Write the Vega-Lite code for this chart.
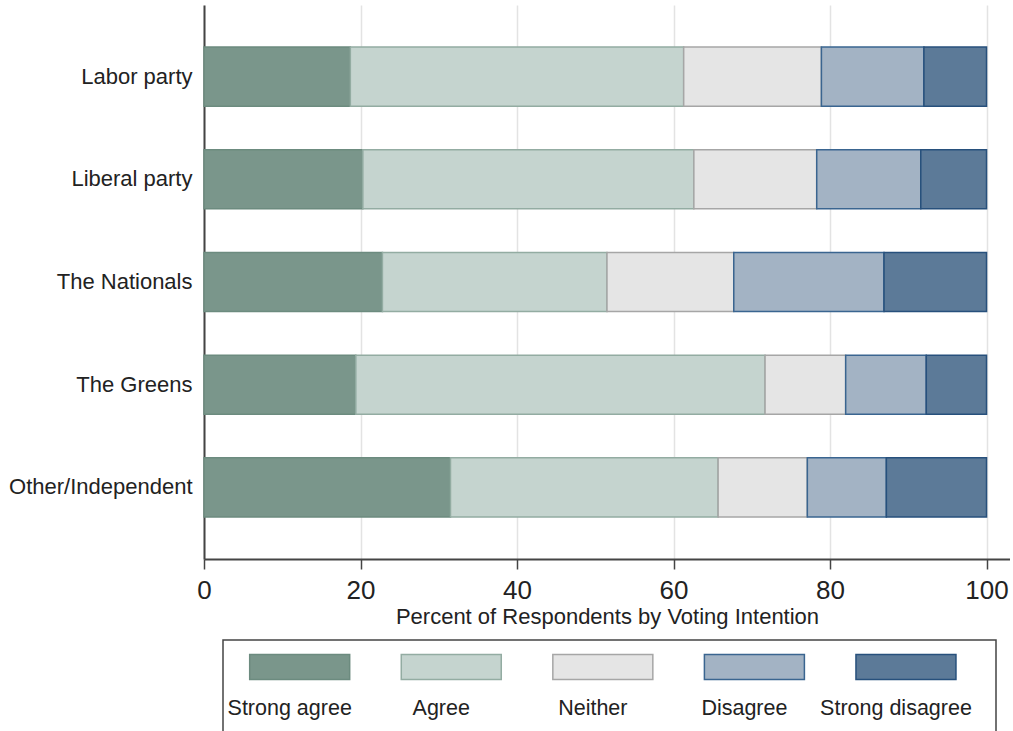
{
  "$schema": "https://vega.github.io/schema/vega-lite/v6.json",
  "padding": {"left": 5, "top": 5, "right": 0, "bottom": 0},
  "background": "white",
  "config": {"font": "Liberation Sans", "view": {"stroke": null}},
  "datasets": {
    "bars": [
      {"party": "Labor party", "response": "Strong agree", "rank": 1, "value": 18.7},
      {"party": "Labor party", "response": "Agree", "rank": 2, "value": 42.6},
      {"party": "Labor party", "response": "Neither", "rank": 3, "value": 17.6},
      {"party": "Labor party", "response": "Disagree", "rank": 4, "value": 13.1},
      {"party": "Labor party", "response": "Strong disagree", "rank": 5, "value": 8.0},
      {"party": "Liberal party", "response": "Strong agree", "rank": 1, "value": 20.3},
      {"party": "Liberal party", "response": "Agree", "rank": 2, "value": 42.3},
      {"party": "Liberal party", "response": "Neither", "rank": 3, "value": 15.7},
      {"party": "Liberal party", "response": "Disagree", "rank": 4, "value": 13.3},
      {"party": "Liberal party", "response": "Strong disagree", "rank": 5, "value": 8.4},
      {"party": "The Nationals", "response": "Strong agree", "rank": 1, "value": 22.8},
      {"party": "The Nationals", "response": "Agree", "rank": 2, "value": 28.7},
      {"party": "The Nationals", "response": "Neither", "rank": 3, "value": 16.2},
      {"party": "The Nationals", "response": "Disagree", "rank": 4, "value": 19.2},
      {"party": "The Nationals", "response": "Strong disagree", "rank": 5, "value": 13.1},
      {"party": "The Greens", "response": "Strong agree", "rank": 1, "value": 19.4},
      {"party": "The Greens", "response": "Agree", "rank": 2, "value": 52.3},
      {"party": "The Greens", "response": "Neither", "rank": 3, "value": 10.3},
      {"party": "The Greens", "response": "Disagree", "rank": 4, "value": 10.3},
      {"party": "The Greens", "response": "Strong disagree", "rank": 5, "value": 7.7},
      {"party": "Other/Independent", "response": "Strong agree", "rank": 1, "value": 31.5},
      {"party": "Other/Independent", "response": "Agree", "rank": 2, "value": 34.2},
      {"party": "Other/Independent", "response": "Neither", "rank": 3, "value": 11.4},
      {"party": "Other/Independent", "response": "Disagree", "rank": 4, "value": 10.1},
      {"party": "Other/Independent", "response": "Strong disagree", "rank": 5, "value": 12.8}
    ],
    "keys": [
      {"response": "Strong agree"},
      {"response": "Agree"},
      {"response": "Neither"},
      {"response": "Disagree"},
      {"response": "Strong disagree"}
    ]
  },
  "spacing": 12,
  "vconcat": [
    {
      "width": 806,
      "height": 554,
      "data": {"name": "bars"},
      "mark": {"type": "bar", "strokeWidth": 1.5},
      "encoding": {
        "y": {
          "field": "party", "type": "nominal",
          "sort": ["Labor party", "Liberal party", "The Nationals", "The Greens", "Other/Independent"],
          "scale": {"paddingInner": 0.425, "paddingOuter": 0.41},
          "axis": {"title": null, "ticks": false, "labelFontSize": 22, "labelPadding": 12, "labelColor": "#222",
                   "labelLimit": 260, "minExtent": 199, "maxExtent": 199, "domainColor": "#444", "domainWidth": 2, "grid": false}
        },
        "x": {
          "field": "value", "type": "quantitative", "stack": "zero",
          "scale": {"domain": [0, 103], "nice": false, "zero": true},
          "axis": {"values": [0, 20, 40, 60, 80, 100], "title": "Percent of Respondents by Voting Intention",
                   "titleFontSize": 22, "titleFontWeight": "normal", "titleColor": "#222", "titlePadding": 3,
                   "labelFontSize": 26, "labelColor": "#222", "labelFlush": false, "labelPadding": 8,
                   "tickSize": 10, "tickColor": "#444", "tickWidth": 1.5,
                   "grid": true, "gridColor": "#e3e3e3", "gridWidth": 1.5,
                   "domainColor": "#444", "domainWidth": 2}
        },
        "color": {
          "field": "response", "type": "nominal",
          "scale": {"domain": ["Strong agree", "Agree", "Neither", "Disagree", "Strong disagree"],
                    "range": ["#7a968b", "#c5d4cf", "#e5e5e5", "#a3b3c4", "#5c7a98"]},
          "legend": null
        },
        "stroke": {
          "field": "response", "type": "nominal",
          "scale": {"domain": ["Strong agree", "Agree", "Neither", "Disagree", "Strong disagree"],
                    "range": ["#6c8b7f", "#93aca2", "#a6a6a6", "#3a6590", "#27507c"]},
          "legend": null
        },
        "order": {"field": "rank", "type": "quantitative"}
      }
    },
    {
      "spacing": 14,
      "hconcat": [
        {
          "width": 1,
          "height": 96,
          "data": {"name": "keys"},
          "mark": {"type": "point", "opacity": 0},
          "encoding": {}
        },
        {
          "width": 773,
          "height": 96,
          "view": {"stroke": "#444", "strokeWidth": 1.5},
          "data": {"name": "keys"},
          "encoding": {
            "x": {
              "field": "response", "type": "nominal",
              "sort": ["Strong agree", "Agree", "Neither", "Disagree", "Strong disagree"],
              "scale": {"type": "point", "padding": 0.55, "align": 0.46},
              "axis": null
            }
          },
          "layer": [
            {
              "mark": {"type": "rect", "width": 100, "height": 25, "strokeWidth": 1.5},
              "encoding": {
                "y": {"datum": "key", "type": "nominal",
                      "scale": {"type": "point", "domain": ["key", "label"], "padding": 0.643},
                      "axis": null},
                "color": {"field": "response", "type": "nominal", "legend": null},
                "stroke": {"field": "response", "type": "nominal", "legend": null}
              }
            },
            {
              "mark": {"type": "text", "fontSize": 21.5, "dx": -10, "baseline": "middle", "color": "#222"},
              "encoding": {
                "y": {"datum": "label", "type": "nominal"},
                "text": {"field": "response"}
              }
            }
          ]
        }
      ]
    }
  ]
}
